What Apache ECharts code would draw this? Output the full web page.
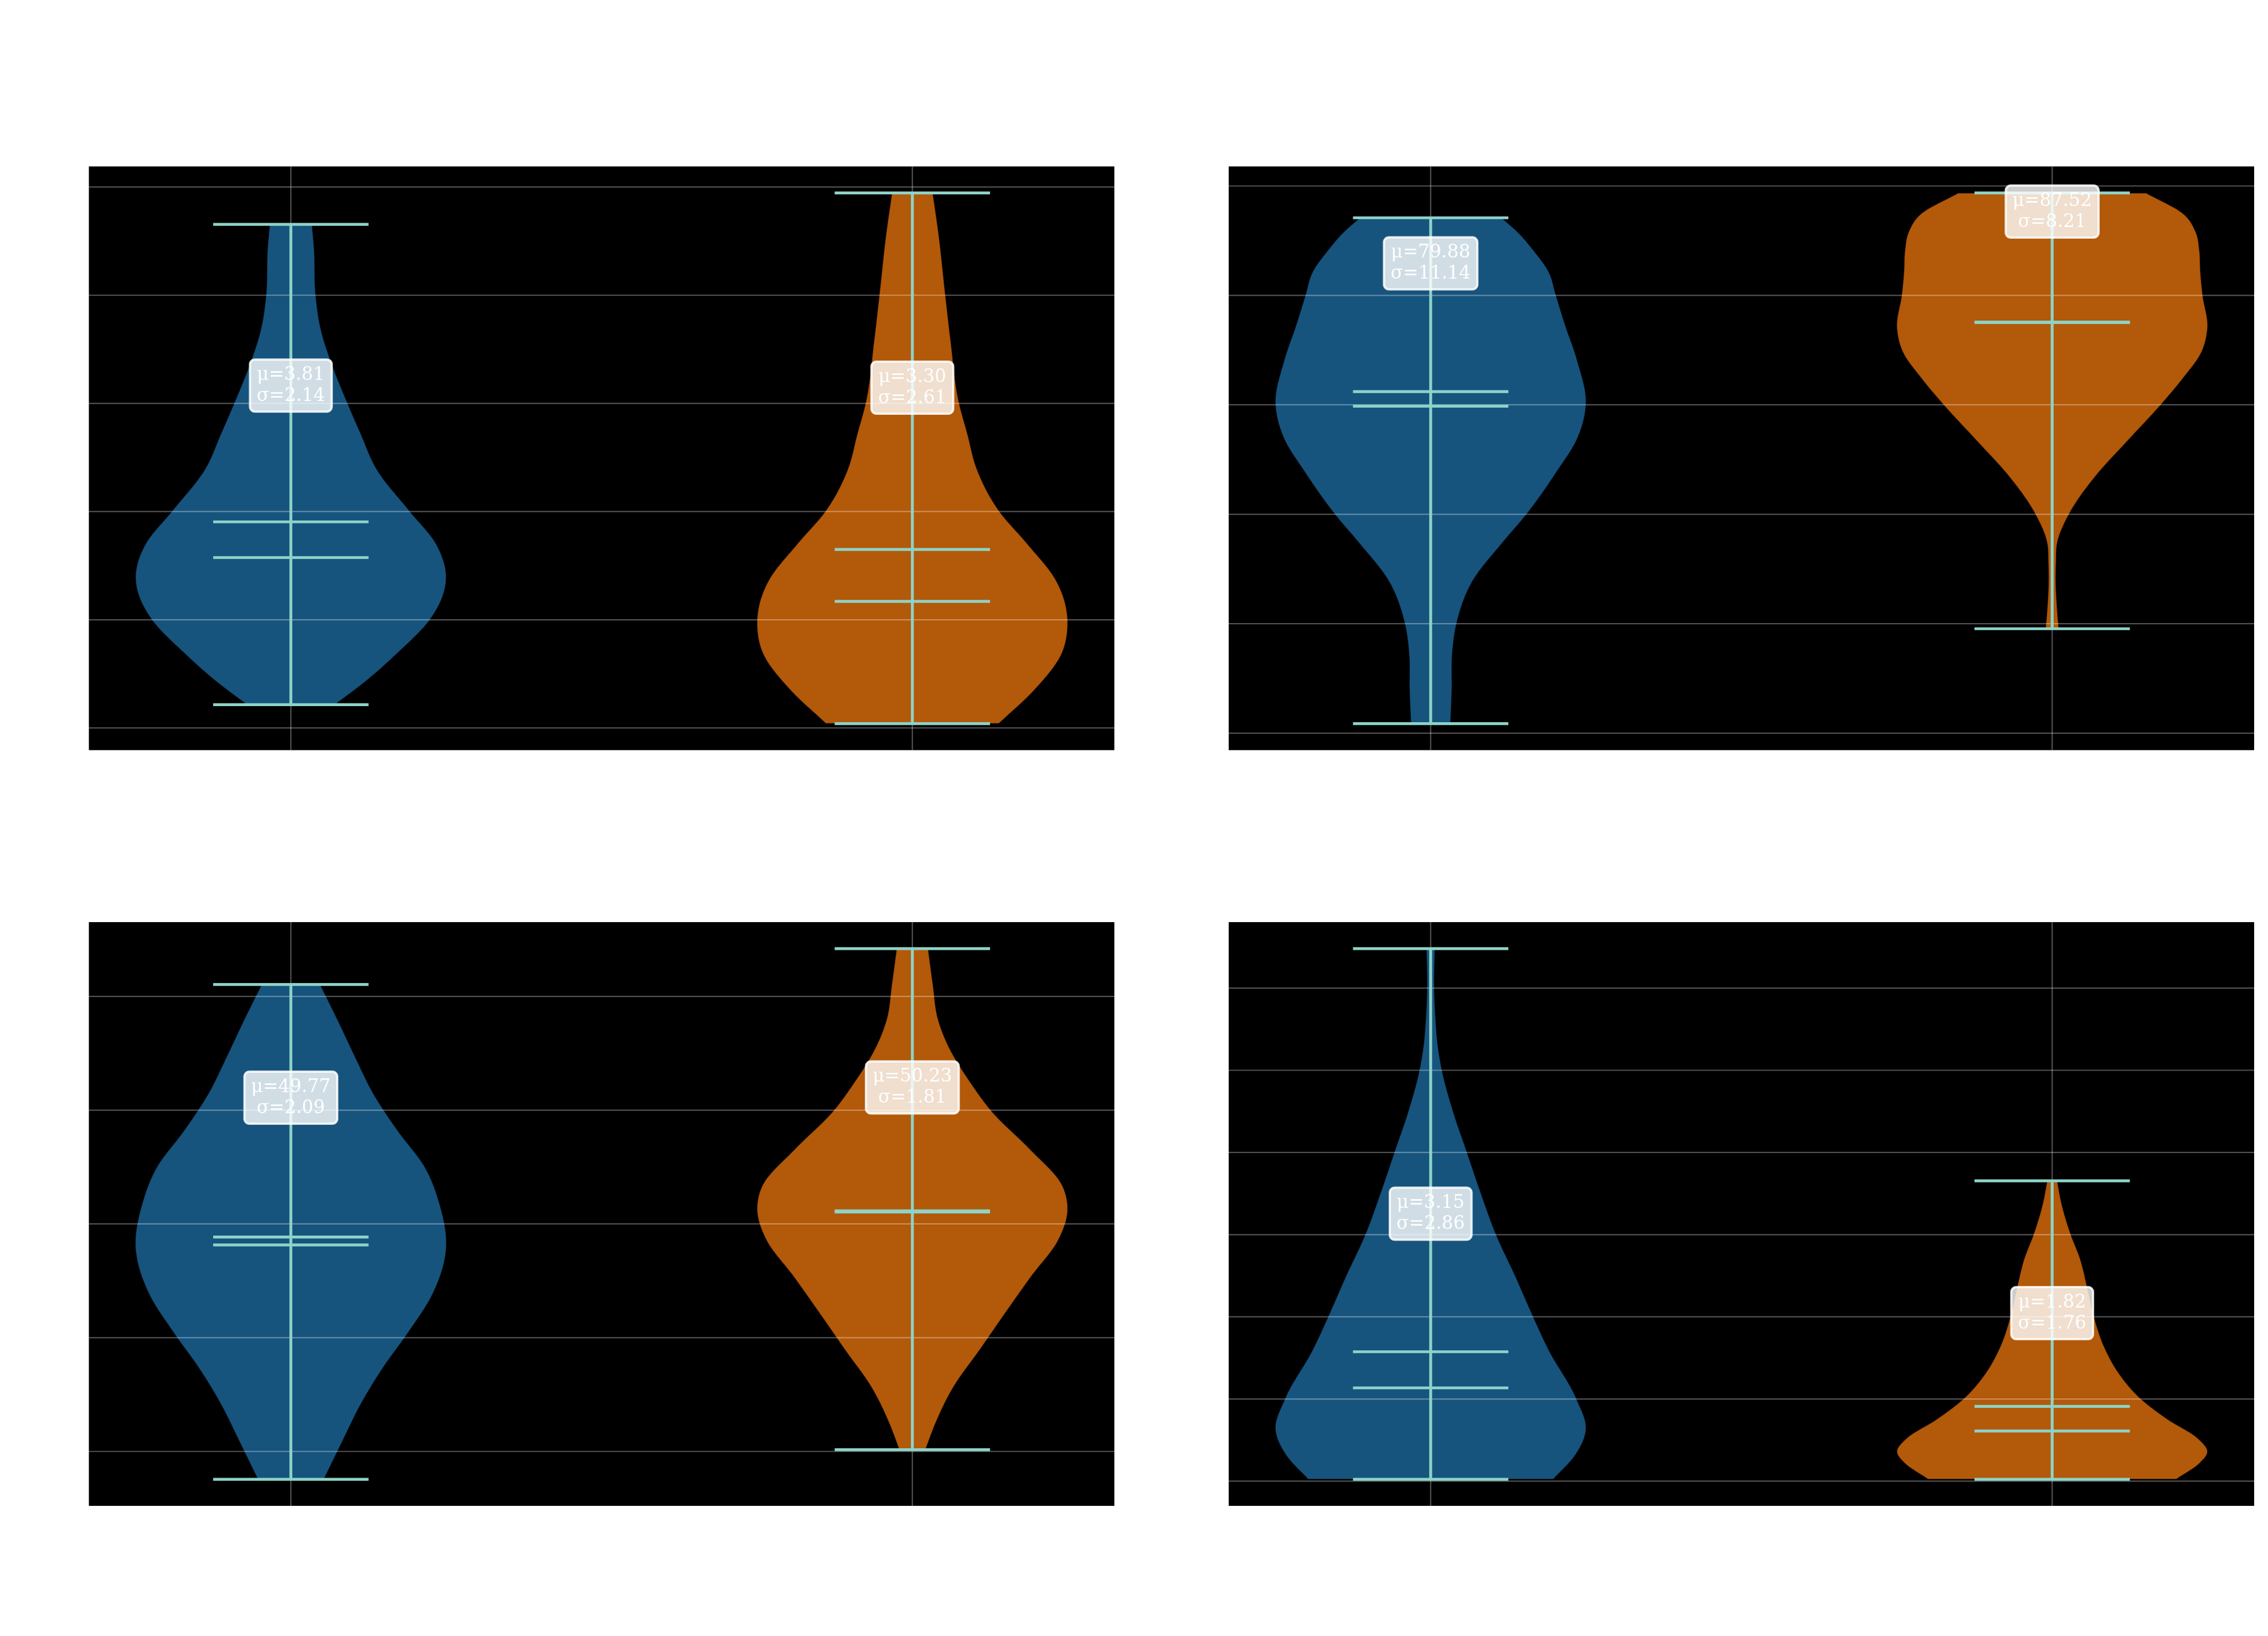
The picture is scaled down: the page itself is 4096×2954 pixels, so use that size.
<!DOCTYPE html>
<html><head><meta charset="utf-8">
<script src="https://cdn.jsdelivr.net/npm/echarts@6/dist/echarts.min.js"></script>
<style>html,body{margin:0;padding:0;background:#ffffff}#c{width:4096px;height:2954px}</style>
</head><body><div id="c"></div>
<script>
// ---------------- DATA ----------------
const positions = [1, 2];
const violinColors = ['#1f77b4', '#ff7f0e'];

// Panel A (top-left)
const aTicks = [0, 2, 4, 6, 8, 10];
const aBlueY = [0.43, 0.84, 1.38, 2.01, 2.77, 3.41, 4.00, 4.77, 5.45, 6.00, 6.80, 7.34, 8.01, 8.83, 9.31];
const aBlueW = [0.284, 0.473, 0.686, 0.898, 1.0, 0.934, 0.768, 0.556, 0.449, 0.366, 0.255, 0.196, 0.160, 0.151, 0.137];
const aOrangeY = [0.08, 0.70, 1.38, 1.89, 2.74, 3.41, 4.00, 4.77, 5.45, 6.00, 7.14, 8.01, 9.17, 9.89];
const aOrangeW = [0.557, 0.786, 0.963, 1.0, 0.923, 0.739, 0.562, 0.418, 0.354, 0.302, 0.248, 0.213, 0.168, 0.132];
const aMins = [0.43, 0.08];
const aMaxs = [9.31, 9.89];
const aMeans = [3.81, 3.30];
const aMedians = [3.15, 2.34];
const aSds = [2.14, 2.61];
const aLabelY = [6.33, 6.29];

// Panel B (top-right)
const bTicks = [50, 60, 70, 80, 90, 100];
const bBlueY = [50.87, 53.95, 57.3, 60.05, 64.0, 67.35, 70.0, 74.05, 76.72, 80.0, 84.09, 87.44, 90.05, 92.13, 94.14, 95.81, 97.09];
const bBlueW = [0.128, 0.137, 0.140, 0.168, 0.275, 0.460, 0.618, 0.820, 0.938, 1.0, 0.943, 0.863, 0.806, 0.761, 0.661, 0.559, 0.457];
const bOrangeY = [59.54, 61.3, 64.0, 65.66, 67.35, 70.0, 73.38, 76.72, 80.0, 82.41, 84.76, 86.94, 90.05, 92.13, 94.14, 95.81, 97.49, 99.36];
const bOrangeW = [0.043, 0.033, 0.024, 0.026, 0.033, 0.109, 0.274, 0.487, 0.700, 0.842, 0.960, 1.0, 0.969, 0.955, 0.948, 0.924, 0.842, 0.605];
const bMins = [50.87, 59.54];
const bMaxs = [97.09, 99.36];
const bMeans = [79.88, 87.52];
const bMedians = [81.21, 87.56];
const bSds = [11.14, 8.21];
const bLabelY = [92.93, 97.66];

// Panel C (bottom-left)
const cTicks = [46, 48, 50, 52, 54];
const cBlueY = [45.51, 46.17, 46.82, 47.46, 48.11, 48.75, 49.56, 50.36, 51.0, 51.65, 52.29, 52.94, 53.58, 54.21];
const cBlueW = [0.213, 0.331, 0.449, 0.591, 0.761, 0.910, 1.0, 0.957, 0.863, 0.686, 0.532, 0.414, 0.303, 0.189];
const cOrangeY = [46.03, 46.49, 47.14, 47.78, 48.43, 49.07, 49.72, 50.28, 50.68, 51.33, 51.97, 52.49, 53.13, 53.58, 54.23, 54.84];
const cOrangeW = [0.085, 0.149, 0.267, 0.433, 0.598, 0.764, 0.941, 1.0, 0.965, 0.752, 0.515, 0.374, 0.232, 0.168, 0.132, 0.102];
const cMins = [45.51, 46.03];
const cMaxs = [54.21, 54.84];
const cMeans = [49.77, 50.23];
const cMedians = [49.63, 50.21];
const cSds = [2.09, 1.81];
const cLabelY = [52.22, 52.40];

// Panel D (bottom-right)
const dTicks = [0, 2, 4, 6, 8, 10, 12];
const dBlueY = [0.045, 0.61, 1.25, 2.01, 3.19, 4.0, 4.98, 6.0, 7.03, 8.0, 9.0, 10.01, 10.60, 11.22, 12.0, 12.96];
const dBlueW = [0.789, 0.927, 1.0, 0.938, 0.761, 0.661, 0.547, 0.422, 0.322, 0.235, 0.145, 0.073, 0.047, 0.033, 0.024, 0.028];
const dOrangeY = [0.045, 0.43, 0.71, 1.05, 1.50, 2.01, 2.57, 3.19, 4.0, 4.71, 5.42, 6.0, 6.76, 7.31];
const dOrangeW = [0.799, 0.948, 1.0, 0.936, 0.747, 0.570, 0.440, 0.345, 0.270, 0.227, 0.180, 0.121, 0.061, 0.033];
const dMins = [0.045, 0.045];
const dMaxs = [12.96, 7.31];
const dMeans = [3.15, 1.82];
const dMedians = [2.27, 1.22];
const dSds = [2.86, 1.76];
const dLabelY = [6.51, 4.09];

// ---------------- PANELS ----------------
const panels = [
  {ticks: aTicks, prof: [[aBlueY, aBlueW], [aOrangeY, aOrangeW]], mins: aMins, maxs: aMaxs, means: aMeans, medians: aMedians, sds: aSds, labelY: aLabelY},
  {ticks: bTicks, prof: [[bBlueY, bBlueW], [bOrangeY, bOrangeW]], mins: bMins, maxs: bMaxs, means: bMeans, medians: bMedians, sds: bSds, labelY: bLabelY},
  {ticks: cTicks, prof: [[cBlueY, cBlueW], [cOrangeY, cOrangeW]], mins: cMins, maxs: cMaxs, means: cMeans, medians: cMedians, sds: cSds, labelY: cLabelY},
  {ticks: dTicks, prof: [[dBlueY, dBlueW], [dOrangeY, dOrangeW]], mins: dMins, maxs: dMaxs, means: dMeans, medians: dMedians, sds: dSds, labelY: dLabelY}
];

// layout (window pixels)
const gridRects = [
  {left: 160.5, top: 300.5, width: 1852, height: 1054},
  {left: 2219, top: 300.5, width: 1852, height: 1054},
  {left: 160.5, top: 1665, width: 1852, height: 1054},
  {left: 2219, top: 1665, width: 1852, height: 1054}
];
const XMIN = 0.675, XMAX = 2.325, HALF = 0.25, BAR = 0.125;
const LINE_COLOR = '#8dd3c7';

// smooth outline drawing (cubic Hermite, three-point tangents)
function smoothOutline(xs, ys, steps) {
  const n = xs.length, h = [], d = [], m = [];
  for (let i = 0; i < n - 1; i++) { h.push(xs[i + 1] - xs[i]); d.push((ys[i + 1] - ys[i]) / h[i]); }
  m[0] = d[0]; m[n - 1] = d[n - 2];
  for (let i = 1; i < n - 1; i++) m[i] = (d[i - 1] * h[i] + d[i] * h[i - 1]) / (h[i - 1] + h[i]);
  const out = [];
  for (let i = 0; i < n - 1; i++) {
    for (let k = 0; k < steps; k++) {
      const t = k / steps, t2 = t * t, t3 = t2 * t;
      out.push([xs[i] + t * h[i],
        (2 * t3 - 3 * t2 + 1) * ys[i] + (t3 - 2 * t2 + t) * h[i] * m[i] + (-2 * t3 + 3 * t2) * ys[i + 1] + (t3 - t2) * h[i] * m[i + 1]]);
    }
  }
  out.push([xs[n - 1], ys[n - 1]]);
  return out;
}

const grids = [], xAxes = [], yAxes = [], series = [];
panels.forEach((p, gi) => {
  const r = gridRects[gi];
  grids.push({left: r.left, top: r.top, width: r.width, height: r.height, show: true, backgroundColor: '#000000', borderWidth: 0, containLabel: false});
  const lo = Math.min(...p.mins), hi = Math.max(...p.maxs), rng = hi - lo;
  const yLo = lo - 0.05 * rng, yHi = hi + 0.05 * rng;
  const hidden = {axisLine: {show: false}, axisTick: {show: false}, axisLabel: {show: false}, splitLine: {show: false}};
  xAxes.push(Object.assign({type: 'value', gridIndex: gi, min: XMIN, max: XMAX}, hidden));
  yAxes.push(Object.assign({type: 'value', gridIndex: gi, min: yLo, max: yHi, scale: true}, hidden));

  // violin bodies
  series.push({
    type: 'custom', xAxisIndex: gi, yAxisIndex: gi, z: 2, clip: true, silent: true,
    data: positions.map((pos, i) => [pos, i]),
    renderItem: (params, api) => {
      const i = params.dataIndex, pos = positions[i];
      const pr = p.prof[i];
      const pts = smoothOutline(pr[0], pr[1], 16);
      const right = pts.map(q => api.coord([pos + Math.max(q[1], 0.005) * HALF, q[0]]));
      const left = pts.slice().reverse().map(q => api.coord([pos - Math.max(q[1], 0.005) * HALF, q[0]]));
      return {type: 'polygon', shape: {points: right.concat(left)},
        style: {fill: violinColors[i], stroke: '#000000', lineWidth: 1.6, opacity: 0.7}};
    }
  });
  // horizontal grid lines (drawn above bodies)
  series.push({
    type: 'custom', xAxisIndex: gi, yAxisIndex: gi, z: 3, clip: true, silent: true,
    data: p.ticks.map(v => [XMIN, v]),
    renderItem: (params, api) => {
      const v = p.ticks[params.dataIndex];
      const a = api.coord([XMIN, v]), b = api.coord([XMAX, v]);
      return {type: 'line', shape: {x1: a[0], y1: a[1], x2: b[0], y2: b[1]},
        style: {stroke: 'rgba(255,255,255,0.33)', lineWidth: 2.2}};
    }
  });
  // vertical grid lines
  series.push({
    type: 'custom', xAxisIndex: gi, yAxisIndex: gi, z: 3, clip: true, silent: true,
    data: positions.map(v => [v, lo]),
    renderItem: (params, api) => {
      const v = positions[params.dataIndex];
      const a = api.coord([v, yLo]), b = api.coord([v, yHi]);
      return {type: 'line', shape: {x1: a[0], y1: a[1], x2: b[0], y2: b[1]},
        style: {stroke: 'rgba(255,255,255,0.33)', lineWidth: 2.2}};
    }
  });
  // stat lines
  series.push({
    type: 'custom', xAxisIndex: gi, yAxisIndex: gi, z: 4, clip: true, silent: true,
    data: positions.map((pos, i) => [pos, p.means[i]]),
    renderItem: (params, api) => {
      const i = params.dataIndex, pos = positions[i];
      const st = {stroke: LINE_COLOR, lineWidth: 5.2, lineCap: 'butt'};
      const children = [];
      const s0 = api.coord([pos, p.mins[i]]), s1 = api.coord([pos, p.maxs[i]]);
      children.push({type: 'line', shape: {x1: s0[0], y1: s0[1], x2: s1[0], y2: s1[1]}, style: st});
      [p.mins[i], p.maxs[i], p.means[i], p.medians[i]].forEach(v => {
        const a = api.coord([pos - BAR, v]), b = api.coord([pos + BAR, v]);
        children.push({type: 'line', shape: {x1: a[0], y1: a[1], x2: b[0], y2: b[1]}, style: st});
      });
      return {type: 'group', children};
    }
  });
  // annotation labels
  series.push({
    type: 'custom', xAxisIndex: gi, yAxisIndex: gi, z: 5, clip: false, silent: true,
    data: positions.map((pos, i) => [pos, p.labelY[i]]),
    renderItem: (params, api) => {
      const i = params.dataIndex;
      const c = api.coord([positions[i], p.labelY[i]]);
      return {type: 'text', x: c[0], y: c[1],
        style: {text: 'μ=' + p.means[i].toFixed(2) + '\nσ=' + p.sds[i].toFixed(2),
          fill: '#ffffff', font: '33px "DejaVu Serif"', lineHeight: 38,
          align: 'center', verticalAlign: 'middle',
          backgroundColor: 'rgba(255,255,255,0.8)', borderColor: 'rgba(255,255,255,0.85)', borderWidth: 2,
          borderRadius: 9, padding: [9, 12, 9, 12]}};
    }
  });
});

const chart = echarts.init(document.getElementById('c'), null, {renderer: 'canvas', devicePixelRatio: 1});
chart.setOption({backgroundColor: '#ffffff', animation: false, grid: grids, xAxis: xAxes, yAxis: yAxes, series});
</script></body></html>
